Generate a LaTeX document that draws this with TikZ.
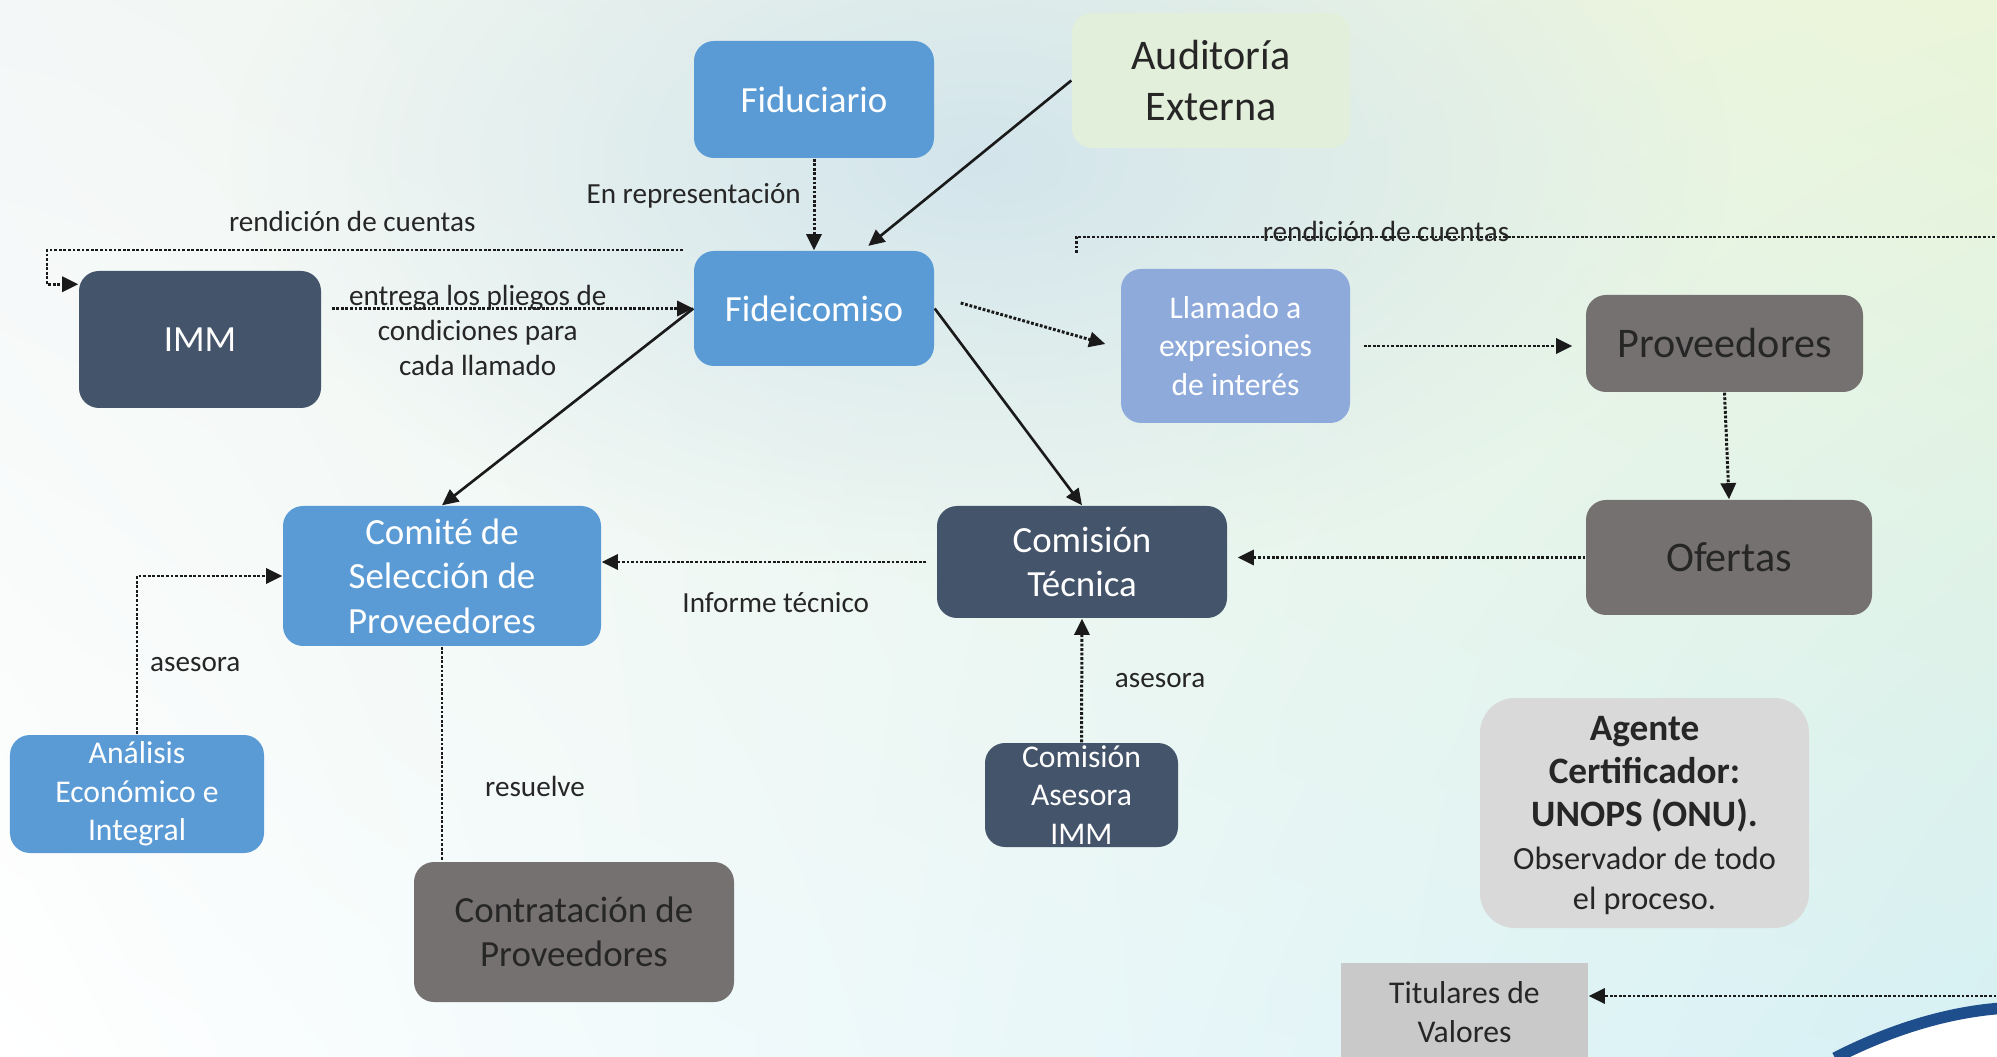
\documentclass[tikz,border=0pt]{standalone}
\usepackage{fontspec}
\setmainfont{Carlito}
\usepackage{tikz}
\usetikzlibrary{shapes,arrows,arrows.meta}
\usetikzlibrary{calc}
\usetikzlibrary{positioning}
\usetikzlibrary{fadings,shadings}
\definecolor{azul}{HTML}{5B9BD5}
\definecolor{pizarra}{HTML}{44546A}
\definecolor{lavanda}{HTML}{8EAADB}
\definecolor{gris}{HTML}{767171}
\definecolor{grisclaro}{HTML}{D9D9D9}
\definecolor{grismedio}{HTML}{C9C9C9}
\definecolor{verdeclaro}{HTML}{E2EFDA}
\definecolor{texto}{HTML}{262626}
\definecolor{negro}{HTML}{1A1A1A}
\definecolor{marino}{HTML}{1F4E8C}
\definecolor{fondoA}{HTML}{F3F7F7}
\definecolor{fondoB}{HTML}{EAF5D9}
\definecolor{fondoC}{HTML}{FFFFFF}
\definecolor{fondoD}{HTML}{D6F0F4}
\definecolor{celeste}{HTML}{D3E5EC}
\tikzfading[name=mancha, inner color=transparent!0, outer color=transparent!100]
\tikzstyle{block} = [rectangle, rounded corners=0.2cm, align=center,
    inner sep=0pt, font=\fontsize{10.5}{12.7}\selectfont]
\tikzstyle{blueblock} = [block, fill=azul, text=white]
\tikzstyle{darkblock} = [block, fill=pizarra, text=white]
\tikzstyle{grayblock} = [block, fill=gris, text=texto, font=\fontsize{12}{14.5}\selectfont]
\tikzstyle{smalltext} = [font=\fontsize{9}{10.9}\selectfont]
\tikzstyle{lbl} = [text=texto, align=center, font=\fontsize{8.3}{9.9}\selectfont]
\tikzstyle{conn} = [draw=negro, line width=0.75pt]
\tikzstyle{dots} = [line width=0.85pt, dash pattern=on 0.8pt off 0.5pt]

\begin{document}
\begin{tikzpicture}[>={Triangle[length=4.6pt,width=4.3pt]}]

    \useasboundingbox (0,0) rectangle (19.97,-10.57);
    \clip (0,0) rectangle (19.97,-10.57);
    \shade[upper left=fondoA, upper right=fondoB, lower left=fondoC, lower right=fondoD]
        (0,0) rectangle (19.97,-10.57);
    \fill[celeste, path fading=mancha] (9.8,-1.6) ellipse (7.5 and 4.2);
    \fill[white] (18.35,-10.58) .. controls (18.8,-10.35) and (19.4,-10.12) .. (20.05,-10.08)
        -- (20.05,-10.7) -- (18.35,-10.7) -- cycle;
    \draw[marino, line width=3.3pt] (18.35,-10.58) .. controls (18.8,-10.35) and (19.4,-10.12) .. (20.05,-10.08);

    \node[blueblock, minimum width=2.40cm, minimum height=1.17cm] at (8.14,-0.995) (fiduciario) {Fiduciario};
    \node[block, fill=verdeclaro, text=texto, font=\fontsize{12}{14.5}\selectfont,
        minimum width=2.78cm, minimum height=1.35cm] at (12.11,-0.805) (auditoria) {Auditoría\\Externa};
    \node[blueblock, minimum width=2.40cm, minimum height=1.15cm] at (8.14,-3.085) (fideicomiso) {Fideicomiso};
    \node[darkblock, minimum width=2.42cm, minimum height=1.37cm] at (2.00,-3.395) (imm) {IMM};
    \node[block, fill=lavanda, text=white, smalltext,
        minimum width=2.29cm, minimum height=1.54cm] at (12.355,-3.46) (llamado) {Llamado a\\expresiones\\de interés};
    \node[grayblock, minimum width=2.77cm, minimum height=0.97cm] at (17.245,-3.435) (proveedores) {Proveedores};
    \node[grayblock, minimum width=2.86cm, minimum height=1.15cm] at (17.29,-5.575) (ofertas) {Ofertas};
    \node[blueblock, minimum width=3.18cm, minimum height=1.40cm] at (4.42,-5.76) (comite) {Comité de\\Selección de\\Proveedores};
    \node[darkblock, minimum width=2.90cm, minimum height=1.12cm] at (10.82,-5.62) (tecnica) {Comisión\\Técnica};
    \node[blueblock, smalltext, minimum width=2.54cm, minimum height=1.18cm] at (1.37,-7.94) (analisis) {Análisis\\Económico e\\Integral};
    \node[darkblock, smalltext, minimum width=1.93cm, minimum height=1.04cm] at (10.815,-7.95) (asesora) {Comisión\\Asesora\\IMM};
    \node[grayblock, font=\fontsize{10.5}{12.7}\selectfont,
        minimum width=3.20cm, minimum height=1.40cm] at (5.74,-9.32) (contratacion) {Contratación de\\Proveedores};
    \node[block, fill=grisclaro, text=texto, rounded corners=0.35cm, font=\fontsize{10.6}{12.3}\selectfont,
        minimum width=3.29cm, minimum height=2.30cm] at (16.445,-8.13) (agente)
        {\\[-4pt]\textbf{Agente}\\\textbf{Certificador:}\\\textbf{UNOPS (ONU).}\\{\fontsize{9.2}{11.2}\selectfont Observador de todo}\\[-1pt]{\fontsize{9.2}{11.2}\selectfont el proceso.}};
    \node[rectangle, fill=grismedio, text=texto, align=center, smalltext,
        minimum width=2.47cm, minimum height=0.98cm] at (14.645,-10.12) (titulares) {Titulares de\\Valores};

    \coordinate (rc1) at (6.83,-2.50);
    \coordinate (rc2) at (0.47,-2.50);
    \coordinate (rc3) at (10.76,-2.53);
    \coordinate (rc4) at (20.10,-2.37);
    \coordinate (tv) at (20.10,-9.96);

    \draw[conn, dots, ->] (fiduciario) -- node[lbl, left, pos=0.40] {En representación} (fideicomiso);
    \draw[conn, ->, shorten >=2pt] (auditoria.west) -- (fideicomiso.50);
    \draw[conn, dots, ->] (rc1) -- node[lbl, above=1.5pt, pos=0.52] {rendición de cuentas} (rc2)
        |- ($(imm.north west)+(0,-0.14)$);
    \draw[conn, dots, ->, shorten <=0.1cm] (imm.east |- fideicomiso.west) --
        node[lbl, pos=0.42, yshift=-0.22cm] {entrega los pliegos de\\condiciones para\\cada llamado} (fideicomiso.west);
    \draw[conn, ->] (fideicomiso.west) -- (comite.north);
    \draw[conn, ->] (fideicomiso.east) -- (tecnica.north);
    \draw[conn, dots, ->] ($(fideicomiso.east)+(0.26,0.055)$) -- ($(llamado.west)+(-0.15,0.02)$);
    \draw[conn, dots] (rc3) |- node[lbl, pos=0.666, yshift=0.06cm] {rendición de cuentas} (rc4);
    \draw[conn, dots, ->, shorten <=0.13cm, shorten >=0.13cm] (llamado.east) -- (proveedores.west |- llamado.east);
    \draw[conn, dots, ->] (proveedores.south) -- (ofertas.north);
    \draw[conn, dots, ->, shorten >=0.1cm] (ofertas.west) -- (tecnica.east |- ofertas.west);
    \draw[conn, dots, ->, shorten <=0.1cm] (tecnica.west) --
        node[lbl, below=5pt, pos=0.48] {Informe técnico} (comite.east |- tecnica.west);
    \draw[conn, dots, ->] (analisis.north) |- node[lbl, right, pos=0.22] {asesora} (comite.west);
    \draw[conn, dots, ->] (asesora.north) -- node[lbl, right=0.2cm] {asesora} (tecnica.south);
    \draw[conn, dots] (comite.south) -- node[lbl, right=0.3cm, pos=0.65] {resuelve} (comite.south |- contratacion.north);
    \draw[conn, dots, ->] (tv) -- (titulares.east |- tv);
\end{tikzpicture}
\end{document}
